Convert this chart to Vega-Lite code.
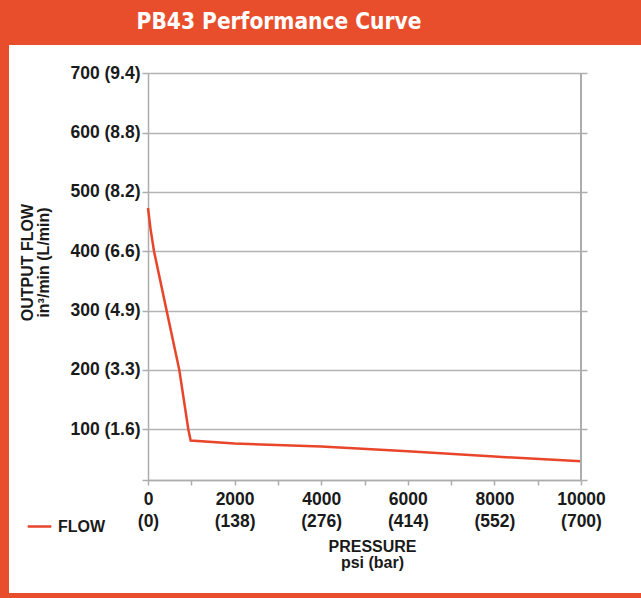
{
  "$schema": "https://vega.github.io/schema/vega-lite/v6.json",
  "width": 632,
  "height": 548,
  "autosize": "none",
  "padding": {"left": 9, "top": 45, "right": 0, "bottom": 5},
  "background": "#E94E2C",
  "title": {
    "text": "PB43 Performance Curve",
    "color": "#FFFFFF",
    "font": "Liberation Sans Narrow, DejaVu Sans Condensed, Liberation Sans",
    "fontSize": 22.5,
    "fontWeight": "bold",
    "anchor": "middle",
    "dx": -46,
    "offset": 12
  },
  "config": {
    "view": {"fill": "#FFFFFF", "stroke": null},
    "font": "Liberation Sans",
    "axis": {
      "labelFont": "Liberation Sans",
      "labelFontSize": 17.5,
      "labelFontWeight": "bold",
      "labelColor": "#1A1A1A",
      "titleFont": "Liberation Sans",
      "titleFontSize": 16,
      "titleFontWeight": "bold",
      "titleColor": "#1A1A1A",
      "domainColor": "#ADADAD",
      "domainWidth": 1.5,
      "tickColor": "#ADADAD",
      "tickWidth": 1.5,
      "gridColor": "#B3B3B3",
      "gridWidth": 1.5,
      "gridOpacity": 1
    }
  },
  "data": {
    "values": [
      {"pressure": 0, "flow": 473},
      {"pressure": 60, "flow": 437},
      {"pressure": 139, "flow": 400},
      {"pressure": 430, "flow": 300},
      {"pressure": 723, "flow": 200},
      {"pressure": 931, "flow": 100},
      {"pressure": 985, "flow": 81},
      {"pressure": 2000, "flow": 76},
      {"pressure": 4000, "flow": 71},
      {"pressure": 6000, "flow": 63},
      {"pressure": 8000, "flow": 54},
      {"pressure": 10000, "flow": 46}
    ]
  },
  "layer": [
    {
      "mark": {"type": "line", "strokeWidth": 2.5, "clip": false},
      "encoding": {
        "x": {
          "field": "pressure",
          "type": "quantitative",
          "scale": {"domain": [0, 10000], "range": [139, 572], "nice": false, "zero": false},
          "axis": {
            "orient": "bottom",
            "offset": -113,
            "values": [0, 1000, 2000, 3000, 4000, 5000, 6000, 7000, 8000, 9000, 10000],
            "labelExpr": "datum.value == 0 ? ['0','(0)'] : datum.value == 2000 ? ['2000','(138)'] : datum.value == 4000 ? ['4000','(276)'] : datum.value == 6000 ? ['6000','(414)'] : datum.value == 8000 ? ['8000','(552)'] : datum.value == 10000 ? ['10000','(700)'] : ''",
            "labelOverlap": false,
            "labelFlush": false,
            "labelLineHeight": 21.5,
            "labelPadding": 5.5,
            "tickSize": 5,
            "grid": false,
            "title": ["PRESSURE", "psi (bar)"],
            "titleLineHeight": 16.5,
            "titleX": 363,
            "titleY": 58,
            "titleBaseline": "top",
            "titleAlign": "center"
          }
        },
        "y": {
          "field": "flow",
          "type": "quantitative",
          "scale": {"domain": [14.5, 700], "range": [435, 28.3], "nice": false, "zero": false},
          "axis": {
            "orient": "left",
            "offset": -139,
            "values": [14.5, 100, 200, 300, 400, 500, 600, 700],
            "labelExpr": "datum.value == 700 ? '700 (9.4)' : datum.value == 600 ? '600 (8.8)' : datum.value == 500 ? '500 (8.2)' : datum.value == 400 ? '400 (6.6)' : datum.value == 300 ? '300 (4.9)' : datum.value == 200 ? '200 (3.3)' : datum.value == 100 ? '100 (1.6)' : ''",
            "labelOverlap": false,
            "labelFlush": false,
            "labelPadding": 2,
            "tickSize": 6,
            "grid": true,
            "title": ["OUTPUT FLOW", "in³/min  (L/min)"],
            "titleLineHeight": 16,
            "titleAngle": -90,
            "titleX": -129,
            "titleY": 217,
            "titleBaseline": "top",
            "titleAlign": "center"
          }
        },
        "color": {
          "datum": "FLOW",
          "type": "nominal",
          "scale": {"range": ["#E8452A"]},
          "legend": {
            "orient": "none",
            "legendX": 17,
            "legendY": 468,
            "title": null,
            "labelFont": "Liberation Sans",
            "labelFontSize": 16,
            "labelFontWeight": "bold",
            "labelColor": "#1A1A1A",
            "symbolType": "stroke",
            "symbolSize": 560,
            "symbolStrokeWidth": 2.5,
            "labelOffset": 5
          }
        }
      }
    },
    {
      "mark": {"type": "rule", "color": "#ADADAD", "strokeWidth": 2},
      "encoding": {
        "x": {"datum": 10000, "type": "quantitative"},
        "y": {
          "datum": 14.5,
          "type": "quantitative",
          "axis": {
            "orient": "right",
            "offset": -60,
            "values": [14.5, 100, 200, 300, 400, 500, 600, 700],
            "labels": false,
            "domain": false,
            "grid": false,
            "ticks": true,
            "tickSize": 6,
            "title": null
          }
        },
        "y2": {"datum": 700}
      }
    }
  ],
  "resolve": {"axis": {"y": "independent"}}
}
